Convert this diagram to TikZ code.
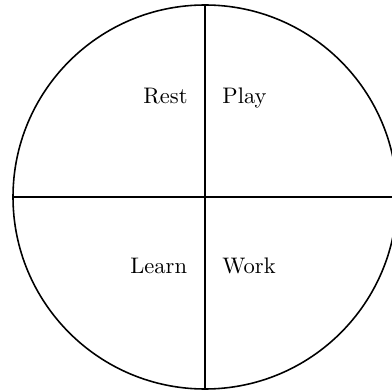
\documentclass[tikz,border=0pt]{standalone}
\begin{document}
\begin{tikzpicture}[x=0.4444pt,y=-0.4444pt,
  ring/.style={draw, circle, line width=0.7pt, inner sep=0pt, outer sep=0pt, minimum size=384*0.4444pt},
  divider/.style={line width=0.6pt},
  leftlabel/.style={anchor=base east, inner sep=0pt},
  rightlabel/.style={anchor=base west, inner sep=0pt}]
\useasboundingbox (0,0) rectangle (392,392);
\clip (0,0) rectangle (392,392);
\node[ring] (c) at (205,197) {};
\draw[divider] (c.north) -- (c.south);
\draw[divider] (c.west) -- (c.east);
\node[leftlabel] (rest) at (188,104) {Rest};
\node[rightlabel] (play) at (222,104) {Play};
\node[leftlabel] (learn) at (187.5,273.5) {Learn};
\node[rightlabel] (work) at (222,273.5) {Work};
\end{tikzpicture}
\end{document}
